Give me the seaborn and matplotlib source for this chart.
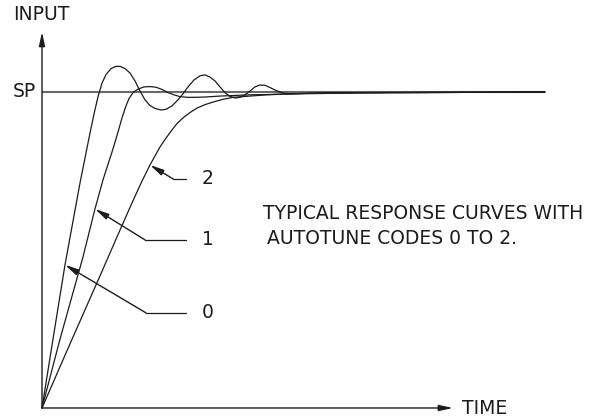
import numpy as np
import pandas as pd
import matplotlib
matplotlib.use("Agg")
import matplotlib.pyplot as plt
import seaborn as sns

sns.set_style("white")
plt.rcParams["font.family"] = ["DejaVu Sans"]

# response curves, time in arbitrary units, input in % of set point
t0 = [0, 1.1, 2.3, 3.8, 4.8, 5.2, 5.6, 6.0, 6.4, 6.9, 7.4, 7.8, 8.3, 8.8, 9.3, 9.8,
      10.3, 10.8, 11.3, 11.9, 12.4, 13.0, 13.6, 14.1, 14.6, 15.2, 15.8, 16.3, 16.8,
      17.3, 17.8, 18.3, 18.8, 19.3, 19.8, 20.3, 20.8, 21.3, 21.8, 22.3, 22.8, 23.3,
      23.8, 24.3, 25.0, 25.8, 27.8, 35.8, 50.3]
y0 = [0, 21.8, 45.3, 71.2, 87.0, 93.0, 98.5, 102.8, 105.5, 107.4, 108.1, 108.1, 107.4,
      106.0, 103.5, 100.3, 97.5, 95.7, 94.8, 94.3, 94.5, 95.6, 97.5, 99.4, 101.6, 103.8,
      105.1, 105.4, 104.7, 103.5, 101.6, 99.8, 98.6, 98.1, 98.3, 99.1, 100.3, 101.6,
      102.2, 102.1, 101.4, 100.6, 100.0, 99.5, 99.4, 99.5, 99.7, 99.9, 100.0]

t1 = [0, 1.8, 4.1, 5.3, 6.1, 7.1, 7.6, 8.0, 8.4, 8.7, 9.1, 9.6, 10.2, 10.8, 11.4, 12.0,
      12.6, 13.2, 13.8, 14.6, 15.4, 16.3, 17.8, 19.3, 20.8, 22.8, 25.8, 29.8, 37.8, 50.3]
y1 = [0, 21.8, 47.8, 63.0, 72.2, 82.0, 87.3, 91.8, 95.6, 97.9, 99.8, 100.9, 101.6, 101.7,
      101.5, 100.8, 99.8, 99.1, 98.5, 98.3, 98.3, 98.4, 98.7, 98.9, 99.1, 99.2, 99.5,
      99.7, 99.8, 100.0]

t2 = [0, 2.8, 5.8, 7.8, 9.0, 10.0, 10.8, 11.8, 12.4, 13.0, 13.5, 14.1, 14.8, 15.5, 16.3,
      17.1, 18.0, 19.1, 20.8, 22.5, 24.8, 27.5, 31.8, 37.8, 50.3]
y2 = [0, 20.3, 41.8, 56.3, 64.9, 71.8, 76.9, 82.6, 85.4, 88.0, 90.0, 91.8, 93.5, 94.9,
      96.0, 96.8, 97.6, 98.3, 98.7, 99.1, 99.4, 99.5, 99.7, 99.8, 100.0]

sp_value = 100
sp_end = 50.3
x_axis_end = 41.1
y_axis_end = 119.0

codes = ["0", "1", "2"]
# leader lines: (label x, label y, elbow x, tip x, tip y)
leaders = {
    "0": (14.4, 30.1, 10.4, 2.3, 45.3),
    "1": (14.4, 53.2, 10.3, 5.3, 63.0),
    "2": (14.4, 72.5, 13.1, 10.8, 76.9),
}

df = pd.concat([
    pd.DataFrame({"time": t0, "input": y0, "code": "0"}),
    pd.DataFrame({"time": t1, "input": y1, "code": "1"}),
    pd.DataFrame({"time": t2, "input": y2, "code": "2"}),
])

ink = "#1c1c1c"
fig = plt.figure(figsize=(5.95, 4.17), dpi=100)
ax = fig.add_axes([0, 0, 1, 1])

# set point line
ax.plot([0, sp_end], [sp_value, sp_value], color="#6a6a6a", lw=1.5, solid_capstyle="butt")

sns.lineplot(data=df, x="time", y="input", units="code", estimator=None, sort=False,
             color=ink, lw=0.9, ax=ax)

# axes with arrows
arrow = dict(arrowstyle="-|>,head_length=0.55,head_width=0.12", color=ink, lw=1.0,
             mutation_scale=15, shrinkA=0, shrinkB=0)
ax.annotate("", xy=(0, y_axis_end), xytext=(0, 0), arrowprops=arrow)
ax.annotate("", xy=(x_axis_end, 0), xytext=(0, 0), arrowprops=arrow)

# leader lines with labels
fs = 13.5
for c in codes:
    lx, ly, ex, tx, ty = leaders[c]
    ax.plot([lx, ex], [ly, ly], color=ink, lw=0.9)
    ax.annotate("", xy=(tx, ty), xytext=(ex, ly), arrowprops=arrow)
    ax.text(lx + 1.6, ly, c, fontsize=fs, color=ink, ha="left", va="center")

ax.text(-2.9, 124.5, "INPUT", fontsize=fs, color=ink, ha="left", va="center")
ax.text(-2.9, 100.2, "SP", fontsize=fs, color=ink, ha="left", va="center")
ax.text(42.0, -0.3, "TIME", fontsize=fs, color=ink, ha="left", va="center")
ax.text(22.1, 61.4, "TYPICAL RESPONSE CURVES WITH", fontsize=fs, color=ink,
        ha="left", va="center")
ax.text(22.5, 53.5, "AUTOTUNE CODES 0 TO 2.", fontsize=fs, color=ink,
        ha="left", va="center")

ax.set_xlim(-4.2, 55.3)
ax.set_ylim(-2.85, 129.1)
ax.axis("off")
if ax.get_legend() is not None:
    ax.get_legend().remove()

fig.savefig("out.png", dpi=100)
